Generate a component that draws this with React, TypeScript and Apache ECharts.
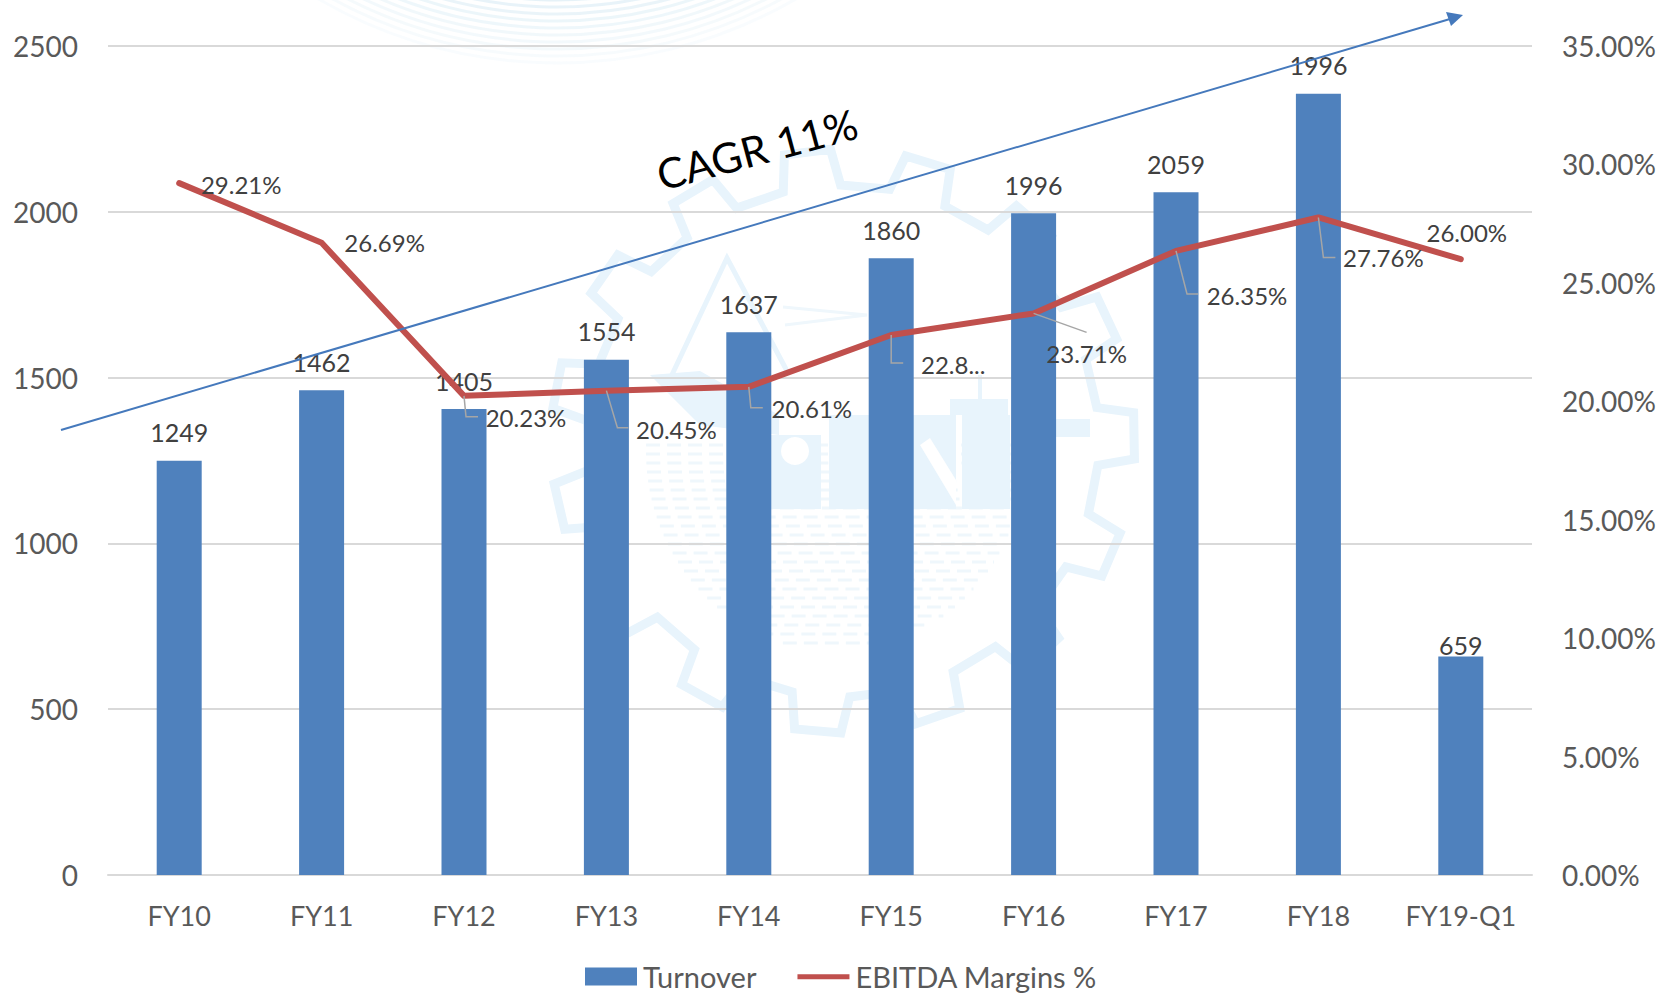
import React, { useEffect, useRef } from "react";
import * as echarts from "echarts";

const categories = ["FY10", "FY11", "FY12", "FY13", "FY14", "FY15", "FY16", "FY17", "FY18", "FY19-Q1"];
const turnoverBars = [1249, 1462, 1405, 1554, 1637, 1860, 1996, 2059, 2356, 659];
const turnoverLabels = ["1249", "1462", "1405", "1554", "1637", "1860", "1996", "2059", "1996", "659"];
const ebitdaMargins = [29.21, 26.69, 20.23, 20.45, 20.61, 22.8, 23.71, 26.35, 27.76, 26.0];
const ebitdaLabels = ["29.21%", "26.69%", "20.23%", "20.45%", "20.61%", "22.8...", "23.71%", "26.35%", "27.76%", "26.00%"];

const labelOffsets = [[62, 1], [63, 0], [62, 22], [70, 39], [63, 22], [62, 30], [53, 40], [71, 45], [65, 40], [6, -27]];
const leaderOffsets: (number[][] | null)[] = [
  null, null,
  [[2, 21], [14, 21]],
  [[11, 37], [22, 37]],
  [[2, 21], [14, 21]],
  [[0, 28], [12, 28]],
  [[53, 19]],
  [[11, 43], [22, 43]],
  [[5, 40], [17, 40]],
  null,
];

const FONT = "Lato";
const WM = "#E8F4FC";

function gearPoints(cx: number, cy: number, rOut: number, rIn: number, teeth: number) {
  const pts: number[][] = [];
  const step = (Math.PI * 2) / teeth;
  const start = (-103.5 * Math.PI) / 180;
  for (let i = 0; i < teeth; i++) {
    const a = i * step + start;
    const at = (f: number, r: number) => [cx + r * Math.cos(a + f * step), cy + r * Math.sin(a + f * step)];
    pts.push(at(0, rIn), at(0.08, rOut), at(0.46, rOut), at(0.54, rIn));
  }
  return pts;
}

function watermark() {
  const z = -20;
  const cx = 843;
  const cy = 441;
  const els: any[] = [];
  els.push({
    type: "polygon", z, silent: true,
    shape: { points: gearPoints(cx, cy, 292, 256, 15) },
    style: { fill: "none", stroke: WM, lineWidth: 9 },
  });
  for (let y = 445; y <= 648; y += 9) {
    const t = (y - 451) / 200;
    const h = 190 * Math.sqrt(Math.max(0, 1 - t * t));
    els.push({
      type: "line", z, silent: true,
      shape: { x1: 836 - h, y1: y, x2: 836 + h, y2: y },
      style: { stroke: "#EFF7FC", lineWidth: 3, lineDash: [14, 7] },
    });
  }
  const blocks = [[829, 415, 127, 94], [962, 415, 48, 94], [771, 435, 50, 74], [950, 399, 58, 16], [1056, 419, 34, 18]];
  for (const [x, y, width, height] of blocks) {
    els.push({ type: "rect", z, silent: true, shape: { x, y, width, height }, style: { fill: WM } });
  }
  els.push({
    type: "polygon", z: z + 1, silent: true,
    shape: { points: [[920, 445], [930, 438], [956, 480], [956, 505]] },
    style: { fill: "#FFFFFF" },
  });
  els.push({ type: "circle", z: z + 1, silent: true, shape: { cx: 795, cy: 451, r: 14 }, style: { fill: "#FFFFFF" } });
  els.push({
    type: "polyline", z, silent: true,
    shape: { points: [[670, 379], [727, 258], [787, 371]] },
    style: { fill: "none", stroke: WM, lineWidth: 5 },
  });
  els.push({
    type: "polygon", z, silent: true,
    shape: { points: [[650, 375], [700, 371], [779, 415], [779, 435], [700, 425]] },
    style: { fill: WM },
  });
  els.push({
    type: "polyline", z, silent: true,
    shape: { points: [[783, 307], [867, 315], [785, 325]] },
    style: { fill: "none", stroke: "#EFF7FC", lineWidth: 3 },
  });
  els.push({
    type: "line", z, silent: true,
    shape: { x1: 980, y1: 375, x2: 980, y2: 399 },
    style: { stroke: WM, lineWidth: 4 },
  });
  for (let i = 0; i < 10; i++) {
    els.push({
      type: "circle", z, silent: true,
      shape: { cx: 557, cy: -414, r: 414 + i * 7 },
      style: { fill: "none", stroke: "#DDEEF6", lineWidth: 3, opacity: 0.75 - i * 0.065 },
    });
  }
  return els;
}

export default function App() {
  const ref = useRef<HTMLDivElement>(null);
  useEffect(() => {
    const chart = echarts.init(ref.current!, undefined, { renderer: "svg" });
    chart.setOption({
      animation: false,
      backgroundColor: "#FFFFFF",
      textStyle: { fontFamily: FONT },
      grid: { left: 108, right: 136, top: 46, bottom: 120, containLabel: false },
      legend: {
        left: 585,
        top: 962,
        padding: 0,
        itemWidth: 52,
        itemHeight: 18,
        itemGap: 41,
        textStyle: { fontFamily: FONT, fontSize: 29, color: "#595959", padding: [0, 0, 0, 1] },
        data: [
          { name: "Turnover", icon: "rect" },
          { name: "EBITDA Margins %", icon: "path://M0 0L0 0ZM0 6.5H58V12H0ZM58 18L58 18Z" },
        ],
      },
      xAxis: {
        type: "category",
        data: categories,
        axisTick: { show: false },
        axisLine: { lineStyle: { color: "#D9D9D9", width: 2 } },
        axisLabel: { interval: 0, margin: 27, fontFamily: FONT, fontSize: 27, color: "#595959" },
      },
      yAxis: [
        {
          type: "value",
          min: 0,
          max: 2500,
          interval: 500,
          axisLine: { show: false },
          axisTick: { show: false },
          splitLine: { lineStyle: { color: "#D9D9D9", width: 2 } },
          axisLabel: {
            margin: 30,
            fontFamily: FONT,
            fontSize: 28,
            color: "#595959",
            formatter: (v: number) => String(v),
          },
        },
        {
          type: "value",
          min: 0,
          max: 35,
          interval: 5,
          position: "right",
          axisLine: { show: false },
          axisTick: { show: false },
          splitLine: { show: false },
          axisLabel: {
            margin: 30,
            fontFamily: FONT,
            fontSize: 28,
            color: "#595959",
            formatter: (v: number) => v.toFixed(2) + "%",
          },
        },
      ],
      series: [
        {
          name: "Turnover",
          type: "bar",
          barWidth: 45,
          z: 2,
          itemStyle: { color: "#4F81BD" },
          label: {
            show: true,
            position: "top",
            distance: 16,
            fontFamily: FONT,
            fontSize: 25,
            color: "#404040",
            formatter: (p: any) => turnoverLabels[p.dataIndex],
          },
          data: turnoverBars.map((value, i) =>
            i === 9 ? { value, label: { offset: [0, 17] } } : { value }
          ),
        },
        {
          name: "leaders",
          type: "custom",
          yAxisIndex: 1,
          z: 4,
          silent: true,
          encode: { x: 0, y: 1 },
          renderItem: (_: any, api: any) => {
            const i = api.value(0);
            const off = leaderOffsets[i];
            if (!off) return undefined;
            const p = api.coord([i, api.value(1)]);
            return {
              type: "polyline",
              shape: { points: [p, ...off.map((o) => [p[0] + o[0], p[1] + o[1]])] },
              style: { fill: "none", stroke: "#A6A6A6", lineWidth: 1.5 },
            };
          },
          data: ebitdaMargins.map((v, i) => [i, v]),
        },
        {
          name: "EBITDA Margins %",
          type: "line",
          yAxisIndex: 1,
          z: 3,
          color: "#C0504D",
          symbol: "circle",
          symbolSize: 1,
          lineStyle: { color: "#C0504D", width: 6, cap: "round", join: "round" },
          itemStyle: { color: "#C0504D" },
          label: {
            show: true,
            position: "inside",
            fontFamily: FONT,
            fontSize: 24,
            color: "#404040",
            formatter: (p: any) => ebitdaLabels[p.dataIndex],
          },
          data: ebitdaMargins.map((value, i) => ({ value, label: { offset: labelOffsets[i] } })),
        },
      ],
      graphic: [
        ...watermark(),
        {
          type: "line",
          z: 50,
          silent: true,
          shape: { x1: 61, y1: 430, x2: 1450, y2: 19 },
          style: { stroke: "#4579BC", lineWidth: 2 },
        },
        {
          type: "polygon",
          z: 50,
          silent: true,
          shape: { points: [[1463, 15], [1446, 12], [1451, 26]] },
          style: { fill: "#4579BC" },
        },
        {
          type: "text",
          z: 50,
          x: 757,
          y: 149,
          rotation: (15 * Math.PI) / 180,
          style: {
            text: "CAGR 11%",
            fontFamily: FONT,
            fontSize: 42,
            fill: "#000000",
            align: "center",
            verticalAlign: "middle",
          },
        },
      ],
    });
    return () => chart.dispose();
  }, []);
  return <div ref={ref} style={{ position: "fixed", left: 0, top: 0, width: 1668, height: 995 }} />;
}
